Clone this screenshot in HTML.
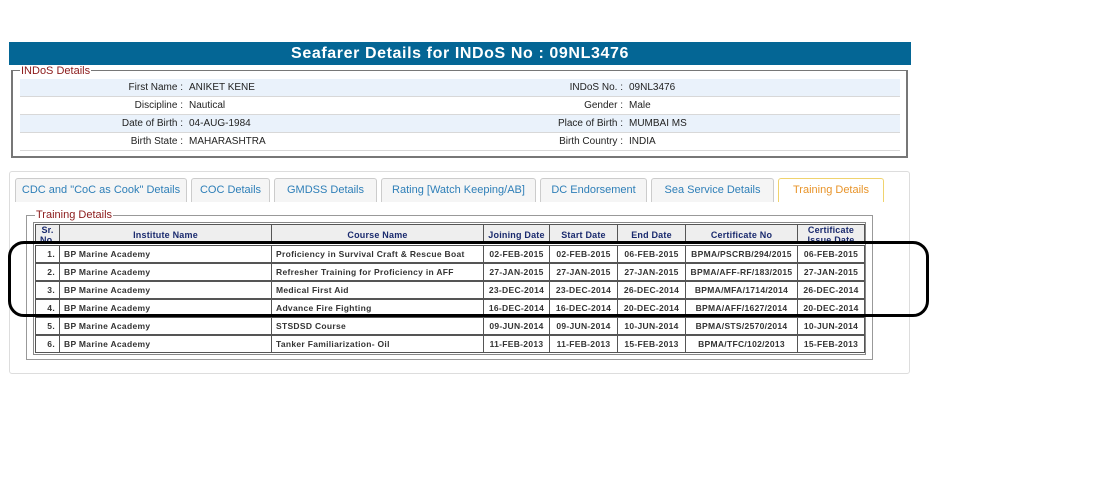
<!DOCTYPE html>
<html><head><meta charset="utf-8"><style>
*{box-sizing:border-box;margin:0;padding:0}
body{width:1101px;height:497px;background:#fff;position:relative;overflow:hidden;font-family:"Liberation Sans",Arial,sans-serif;}
.abs{position:absolute}
#hdr{left:9px;top:42px;width:902px;height:23px;background:#046695;color:#fff;font-weight:bold;font-size:16px;letter-spacing:0.6px;text-align:center;line-height:23px;}
#f1{left:11px;top:70px;width:897px;height:88px;border:2px solid #777;border-top-width:1px}
.leg{position:absolute;background:#fff;color:#8b1a1a;font-size:11px;line-height:12px;padding:0 1px}
.row{position:absolute;left:20px;width:880px;height:18px;border-bottom:1px solid #d8d8d8;font-size:10px;line-height:18px;color:#222}
.row.a{background:#eaf2fb}
.l1{position:absolute;right:717px;text-align:right;white-space:nowrap}
.v1{position:absolute;left:169px}
.l2{position:absolute;right:277px;white-space:nowrap}
.v2{position:absolute;left:609px}
#cont{left:9px;top:171px;width:901px;height:203px;border:1px solid #ddd;border-radius:3px}
.tab{position:absolute;top:178px;height:24px;border:1px solid #ccc;border-bottom:none;border-radius:3px 3px 0 0;background:#f5f5f5;color:#2e7fb8;font-size:11px;text-align:center;line-height:23px;white-space:nowrap}
.tab.on{background:#fff;border-color:#f0d36e;color:#e8942a}
#f2{left:26px;top:215px;width:847px;height:145px;border:1px solid #999}
.c{position:absolute;border:1px solid #555;font-size:8.5px;letter-spacing:0.3px;font-weight:bold;color:#333;line-height:16px;white-space:nowrap;overflow:hidden}
.h{background:#eee;color:#1a2a6e;font-size:9px;letter-spacing:0.2px;text-align:center}
#ring{left:8px;top:241px;width:921px;height:76px;border:3px solid #000;border-radius:16px}
</style></head><body>
<div class="abs" id="hdr">Seafarer Details for INDoS No : 09NL3476</div>
<div class="abs" id="f1"></div>
<div class="leg" style="left:20px;top:65px">INDoS Details</div>
<div class="row a" style="top:79px"><span class="l1">First Name :</span><span class="v1">ANIKET KENE</span><span class="l2">INDoS No. :</span><span class="v2">09NL3476</span></div>
<div class="row" style="top:97px"><span class="l1">Discipline :</span><span class="v1">Nautical</span><span class="l2">Gender :</span><span class="v2">Male</span></div>
<div class="row a" style="top:115px"><span class="l1">Date of Birth :</span><span class="v1">04-AUG-1984</span><span class="l2">Place of Birth :</span><span class="v2">MUMBAI MS</span></div>
<div class="row" style="top:133px"><span class="l1">Birth State :</span><span class="v1">MAHARASHTRA</span><span class="l2">Birth Country :</span><span class="v2">INDIA</span></div>
<div class="abs" id="cont"></div>
<div class="tab" style="left:15px;width:172px">CDC and "CoC as Cook" Details</div>
<div class="tab" style="left:191px;width:79px">COC Details</div>
<div class="tab" style="left:274px;width:103px">GMDSS Details</div>
<div class="tab" style="left:381px;width:155px">Rating [Watch Keeping/AB]</div>
<div class="tab" style="left:540px;width:107px">DC Endorsement</div>
<div class="tab" style="left:651px;width:123px">Sea Service Details</div>
<div class="tab on" style="left:778px;width:106px">Training Details</div>
<div class="abs" id="f2"></div>
<div class="leg" style="left:35px;top:209px">Training Details</div>
<div class="abs" style="left:33px;top:222px;width:833px;height:133px;border:1px solid #888"></div>
<div id="tbl"></div>
<script>
var xs=[35,59,271,483,549,617,685,797,864];
var hd=["Sr.<br>No.","Institute Name","Course Name","Joining Date","Start Date","End Date","Certificate No","Certificate<br>Issue Date"];
var rows=[
["1.","BP Marine Academy","Proficiency in Survival Craft &amp; Rescue Boat","02-FEB-2015","02-FEB-2015","06-FEB-2015","BPMA/PSCRB/294/2015","06-FEB-2015"],
["2.","BP Marine Academy","Refresher Training for Proficiency in AFF","27-JAN-2015","27-JAN-2015","27-JAN-2015","BPMA/AFF-RF/183/2015","27-JAN-2015"],
["3.","BP Marine Academy","Medical First Aid","23-DEC-2014","23-DEC-2014","26-DEC-2014","BPMA/MFA/1714/2014","26-DEC-2014"],
["4.","BP Marine Academy","Advance Fire Fighting","16-DEC-2014","16-DEC-2014","20-DEC-2014","BPMA/AFF/1627/2014","20-DEC-2014"],
["5.","BP Marine Academy","STSDSD Course","09-JUN-2014","09-JUN-2014","10-JUN-2014","BPMA/STS/2570/2014","10-JUN-2014"],
["6.","BP Marine Academy","Tanker Familiarization- Oil","11-FEB-2013","11-FEB-2013","15-FEB-2013","BPMA/TFC/102/2013","15-FEB-2013"]];
var h="";
for(var i=0;i<8;i++){h+='<div class="c h" style="left:'+xs[i]+'px;top:224px;width:'+(xs[i+1]-xs[i]+1)+'px;height:20px;line-height:'+(i==0||i==7?'10px':'20px')+'">'+hd[i]+'</div>';}
for(var r=0;r<6;r++){var t=245+r*18;for(var i=0;i<8;i++){var al=(i==0)?'text-align:right;padding-right:4px':(i==1||i==2)?'text-align:left;padding-left:4px':'text-align:center';
h+='<div class="c" style="left:'+xs[i]+'px;top:'+t+'px;width:'+(xs[i+1]-xs[i]+1)+'px;height:18px;'+al+'">'+rows[r][i]+'</div>';}}
document.getElementById('tbl').innerHTML=h;
</script>
<div class="abs" id="ring"></div>
</body></html>
